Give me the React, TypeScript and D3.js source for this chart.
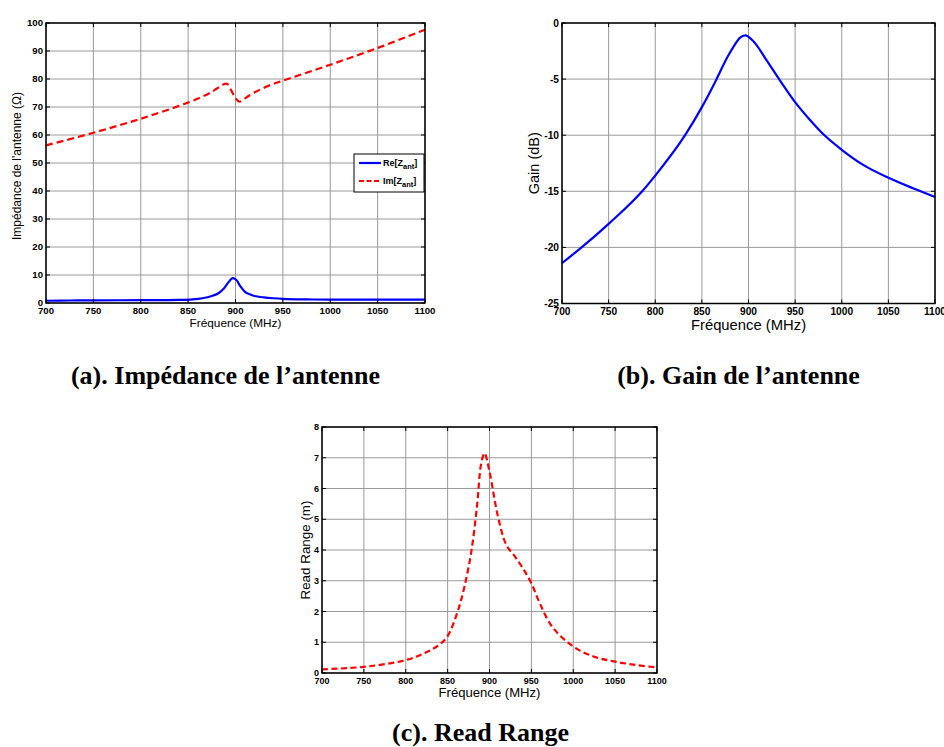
import React from "react";
import * as d3 from "d3";

// ---------- DATA ----------
const FREQ_TICKS = [700, 750, 800, 850, 900, 950, 1000, 1050, 1100];

const reFreq = [700, 725, 750, 800, 840, 855, 865, 875, 882, 888, 893, 897, 901, 905, 910, 915, 920, 930, 940, 950, 975, 1000, 1050, 1100];
const reZ = [0.8, 0.9, 0.95, 1.0, 1.1, 1.3, 1.7, 2.5, 3.5, 5.3, 7.6, 8.9, 8.2, 6.0, 4.0, 3.1, 2.5, 2.0, 1.7, 1.5, 1.3, 1.2, 1.2, 1.2];

const imFreq = [700, 750, 800, 850, 870, 880, 887, 891, 895, 900, 904, 910, 920, 935, 950, 1000, 1050, 1100];
const imZ = [56.3, 60.8, 65.8, 71.6, 74.5, 76.5, 78.0, 78.3, 76.2, 73.2, 71.9, 73.1, 75.2, 77.6, 79.4, 85.1, 91.1, 97.6];

const gainFreq = [700, 721, 750, 786, 800, 832, 850, 864, 877, 884, 891, 896.5, 905, 920, 934, 950, 966, 980, 1000, 1023, 1050, 1077, 1100];
const gainDb = [-21.4, -20.0, -17.9, -15.0, -13.6, -10.0, -7.5, -5.3, -3.1, -2.1, -1.3, -1.1, -1.6, -3.4, -5.15, -7.05, -8.65, -9.9, -11.3, -12.65, -13.8, -14.75, -15.5];

const rrFreq = [700, 750, 800, 825, 840, 850, 862, 870, 878, 885, 890, 894, 900, 910, 920, 930, 940, 950, 960, 975, 1000, 1025, 1050, 1075, 1100];
const readRange = [0.12, 0.2, 0.42, 0.68, 0.92, 1.2, 2.0, 2.8, 3.9, 5.4, 6.8, 7.15, 6.55, 5.1, 4.17, 3.8, 3.4, 2.92, 2.27, 1.5, 0.86, 0.53, 0.37, 0.26, 0.18];

const IMP_TICKS = [0, 10, 20, 30, 40, 50, 60, 70, 80, 90, 100];
const GAIN_TICKS = [0, -5, -10, -15, -20, -25];
const RR_TICKS = [0, 1, 2, 3, 4, 5, 6, 7, 8];

const CAPTIONS = ["(a). Impédance de l\u2019antenne", "(b). Gain de l\u2019antenne", "(c). Read Range"];

// ---------- COMPONENTS ----------
type Series = { xs: number[]; ys: number[]; color: string; dash?: string; smooth?: boolean };

type PanelProps = {
  box: { l: number; r: number; t: number; b: number };
  yDomain: [number, number];
  yTicks: number[];
  series: Series[];
  tickFont: number;
  xLabel: string;
  xLabelFont: number;
  xLabelY: number;
  yLabel: string;
  yLabelFont: number;
  yLabelX: number;
  yLabelY?: number;
  children?: React.ReactNode;
};

const SANS = "'Liberation Sans', Arial, sans-serif";
const SERIF = "'Liberation Serif', 'Times New Roman', serif";

function Panel(p: PanelProps) {
  const { box } = p;
  const x = d3.scaleLinear().domain([700, 1100]).range([box.l, box.r]);
  const y = d3.scaleLinear().domain(p.yDomain).range([box.b, box.t]);
  const tickLen = 4;
  return (
    <g>
      {FREQ_TICKS.map((t) => (
        <line key={"gx" + t} x1={x(t)} x2={x(t)} y1={box.t} y2={box.b} stroke="#9a9a9a" strokeWidth={1} />
      ))}
      {p.yTicks.map((t) => (
        <line key={"gy" + t} x1={box.l} x2={box.r} y1={y(t)} y2={y(t)} stroke="#9a9a9a" strokeWidth={1} />
      ))}
      {p.series.map((s, i) => {
        const pts = s.xs.map((v, k) => [v, s.ys[k]] as [number, number]);
        const line = d3
          .line<[number, number]>()
          .x((d) => x(d[0]))
          .y((d) => y(d[1]))
          .curve(s.smooth ? d3.curveMonotoneX : d3.curveCatmullRom.alpha(0.5));
        return (
          <path key={"s" + i} d={line(pts) || ""} fill="none" stroke={s.color} strokeWidth={2.2} strokeDasharray={s.dash} strokeLinejoin="round" />
        );
      })}
      {FREQ_TICKS.map((t) => (
        <g key={"tx" + t}>
          <line x1={x(t)} x2={x(t)} y1={box.b} y2={box.b - tickLen} stroke="#000" />
          <line x1={x(t)} x2={x(t)} y1={box.t} y2={box.t + tickLen} stroke="#000" />
          <text x={x(t)} y={box.b + 4 + p.tickFont * 0.75} textAnchor="middle" fontFamily={SANS} fontWeight="bold" fontSize={p.tickFont}>
            {t}
          </text>
        </g>
      ))}
      {p.yTicks.map((t) => (
        <g key={"ty" + t}>
          <line x1={box.l} x2={box.l + tickLen} y1={y(t)} y2={y(t)} stroke="#000" />
          <line x1={box.r} x2={box.r - tickLen} y1={y(t)} y2={y(t)} stroke="#000" />
          <text x={box.l - 3} y={y(t) + p.tickFont * 0.36} textAnchor="end" fontFamily={SANS} fontWeight="bold" fontSize={p.tickFont}>
            {t}
          </text>
        </g>
      ))}
      <rect x={box.l} y={box.t} width={box.r - box.l} height={box.b - box.t} fill="none" stroke="#000" strokeWidth={1.5} />
      <text x={(box.l + box.r) / 2} y={p.xLabelY} textAnchor="middle" fontFamily={SANS} fontSize={p.xLabelFont}>
        {p.xLabel}
      </text>
      <text
        transform={`translate(${p.yLabelX},${p.yLabelY ?? (box.t + box.b) / 2}) rotate(-90)`}
        textAnchor="middle"
        dominantBaseline="central"
        fontFamily={SANS}
        fontSize={p.yLabelFont}
      >
        {p.yLabel}
      </text>
      {p.children}
    </g>
  );
}

export default function App() {
  return (
    <svg width={944} height={747} style={{ position: "absolute", left: 0, top: 0, background: "#fff" }}>
      <rect x={0} y={0} width={944} height={747} fill="#fff" />
      <Panel
        box={{ l: 46, r: 425, t: 23, b: 303 }}
        yDomain={[0, 100]}
        yTicks={IMP_TICKS}
        series={[
          { xs: reFreq, ys: reZ, color: "#0000ff" },
          { xs: imFreq, ys: imZ, color: "#ff0000", dash: "7,4" },
        ]}
        tickFont={9.6}
        xLabel="Fréquence (MHz)"
        xLabelFont={11.8}
        xLabelY={327}
        yLabel="Impédance de l'antenne (Ω)"
        yLabelFont={12}
        yLabelX={17}
        yLabelY={166}
      >
        <g>
          <rect x={354} y={154} width={70} height={38} fill="#fff" stroke="#000" strokeWidth={1} />
          <line x1={359} x2={381} y1={163} y2={163} stroke="#0000ff" strokeWidth={2.2} />
          <line x1={359} x2={381} y1={181} y2={181} stroke="#ff0000" strokeWidth={2.2} strokeDasharray="5,2.5" />
          <text x={383} y={166} fontFamily={SANS} fontWeight="bold" fontSize={9}>
            Re[Z<tspan dy={3} fontSize={7.5}>ant</tspan><tspan dy={-3}>]</tspan>
          </text>
          <text x={383} y={184} fontFamily={SANS} fontWeight="bold" fontSize={9}>
            Im[Z<tspan dy={3} fontSize={7.5}>ant</tspan><tspan dy={-3}>]</tspan>
          </text>
        </g>
      </Panel>
      <Panel
        box={{ l: 562, r: 935, t: 23, b: 303.5 }}
        yDomain={[-25, 0]}
        yTicks={GAIN_TICKS}
        series={[{ xs: gainFreq, ys: gainDb, color: "#0000ff", smooth: true }]}
        tickFont={10.2}
        xLabel="Fréquence (MHz)"
        xLabelFont={14.8}
        xLabelY={330}
        yLabel="Gain (dB)"
        yLabelFont={14.5}
        yLabelX={534}
      />
      <Panel
        box={{ l: 322, r: 657, t: 427, b: 673 }}
        yDomain={[0, 8]}
        yTicks={RR_TICKS}
        series={[{ xs: rrFreq, ys: readRange, color: "#ff0000", dash: "6,3.5" }]}
        tickFont={9}
        xLabel="Fréquence (MHz)"
        xLabelFont={13.1}
        xLabelY={697}
        yLabel="Read Range (m)"
        yLabelFont={13.4}
        yLabelX={305}
      />
      <text x={225.5} y={383.5} textAnchor="middle" fontFamily={SERIF} fontWeight="bold" fontSize={26}>
        {CAPTIONS[0]}
      </text>
      <text x={738.5} y={383.5} textAnchor="middle" fontFamily={SERIF} fontWeight="bold" fontSize={26}>
        {CAPTIONS[1]}
      </text>
      <text x={480.5} y={741} textAnchor="middle" fontFamily={SERIF} fontWeight="bold" fontSize={26}>
        {CAPTIONS[2]}
      </text>
    </svg>
  );
}
